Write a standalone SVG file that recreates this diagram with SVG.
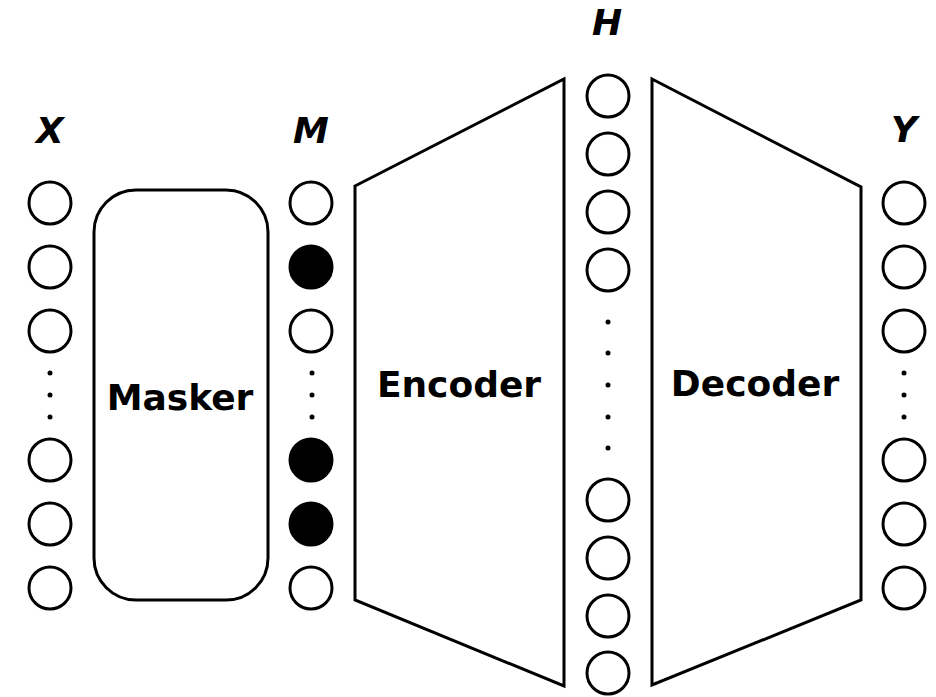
<svg xmlns="http://www.w3.org/2000/svg" width="936" height="697" viewBox="0 0 936 697">
  <style>
    .unit { fill: #fff; stroke: #000; stroke-width: 3; }
    .masked { fill: #000; stroke: #000; stroke-width: 3; }
    .dot { fill: #000; }
    .block { fill: #fff; stroke: #000; stroke-width: 3; stroke-linejoin: miter; }
    .name { font-family: "DejaVu Sans", "Liberation Sans", sans-serif; font-weight: bold; font-size: 36px; text-anchor: middle; fill: #000; }
    .var { font-family: "DejaVu Sans", "Liberation Sans", sans-serif; font-weight: bold; font-style: italic; font-size: 36px; text-anchor: middle; fill: #000; }
  </style>
  <rect width="936" height="697" fill="#fff"/>

  <!-- input vector X -->
  <g id="X">
    <text class="var" x="50" y="143">X</text>
    <circle class="unit" cx="50" cy="203" r="21"/>
    <circle class="unit" cx="50" cy="267" r="21"/>
    <circle class="unit" cx="50" cy="331" r="21"/>
    <circle class="dot" cx="50" cy="373" r="2.5"/>
    <circle class="dot" cx="50" cy="395" r="2.5"/>
    <circle class="dot" cx="50" cy="417" r="2.5"/>
    <circle class="unit" cx="50" cy="460" r="21"/>
    <circle class="unit" cx="50" cy="524" r="21"/>
    <circle class="unit" cx="50" cy="588" r="21"/>
  </g>

  <!-- masking module -->
  <g id="masker">
    <rect class="block" x="94" y="190" width="174" height="410" rx="42" ry="42"/>
    <text class="name" x="180" y="410">Masker</text>
  </g>

  <!-- masked vector M -->
  <g id="M">
    <text class="var" x="311" y="143">M</text>
    <circle class="unit" cx="311" cy="203" r="21"/>
    <circle class="masked" cx="311" cy="267" r="21"/>
    <circle class="unit" cx="311" cy="331" r="21"/>
    <circle class="dot" cx="312" cy="373" r="2.5"/>
    <circle class="dot" cx="312" cy="395" r="2.5"/>
    <circle class="dot" cx="312" cy="417" r="2.5"/>
    <circle class="masked" cx="311" cy="460" r="21"/>
    <circle class="masked" cx="311" cy="524" r="21"/>
    <circle class="unit" cx="311" cy="588" r="21"/>
  </g>

  <!-- encoder -->
  <g id="encoder">
    <polygon class="block" points="355,186 564,79 564,686 355,600"/>
    <text class="name" x="459" y="397">Encoder</text>
  </g>

  <!-- hidden representation H -->
  <g id="H">
    <text class="var" x="607" y="35">H</text>
    <circle class="unit" cx="608" cy="96" r="21"/>
    <circle class="unit" cx="608" cy="154" r="21"/>
    <circle class="unit" cx="608" cy="212" r="21"/>
    <circle class="unit" cx="608" cy="270" r="21"/>
    <circle class="dot" cx="608" cy="322" r="2.5"/>
    <circle class="dot" cx="608" cy="353" r="2.5"/>
    <circle class="dot" cx="608" cy="385" r="2.5"/>
    <circle class="dot" cx="608" cy="417" r="2.5"/>
    <circle class="dot" cx="608" cy="448" r="2.5"/>
    <circle class="unit" cx="608" cy="500" r="21"/>
    <circle class="unit" cx="608" cy="558" r="21"/>
    <circle class="unit" cx="608" cy="616" r="21"/>
    <circle class="unit" cx="608" cy="673" r="21"/>
  </g>

  <!-- decoder -->
  <g id="decoder">
    <polygon class="block" points="652,79 861,187 861,600 652,685"/>
    <text class="name" x="755" y="396">Decoder</text>
  </g>

  <!-- output vector Y -->
  <g id="Y">
    <text class="var" x="904" y="142">Y</text>
    <circle class="unit" cx="904" cy="203" r="21"/>
    <circle class="unit" cx="904" cy="267" r="21"/>
    <circle class="unit" cx="904" cy="331" r="21"/>
    <circle class="dot" cx="904" cy="373" r="2.5"/>
    <circle class="dot" cx="904" cy="395" r="2.5"/>
    <circle class="dot" cx="904" cy="417" r="2.5"/>
    <circle class="unit" cx="904" cy="460" r="21"/>
    <circle class="unit" cx="904" cy="524" r="21"/>
    <circle class="unit" cx="904" cy="588" r="21"/>
  </g>

  <g id="connectors"/>
</svg>
